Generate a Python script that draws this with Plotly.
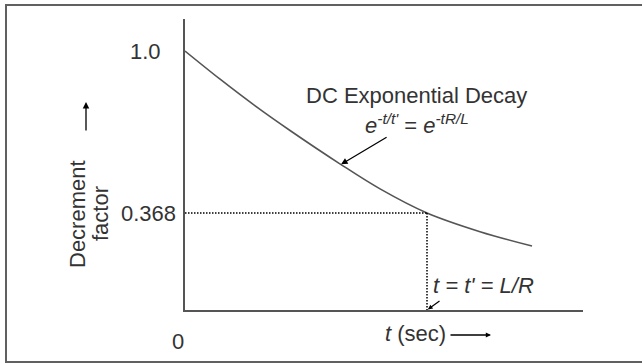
import plotly.graph_objects as go

# Decrement factor of a DC offset current
t_vals = [0.0, 0.145, 0.29, 0.434, 0.64, 0.806, 1.0, 1.219, 1.434]
decrement = [1.0, 0.890, 0.786, 0.690, 0.560, 0.462, 0.368, 0.295, 0.239]

# Time constant t' = L/R and the value reached there
t_const = 1.0
decay_at_tc = 0.368
start_value = 1.0

FONT = "Liberation Sans, Arial, sans-serif"
TXT = "#333333"
LINE = "#555555"
FS = 22

W, H = 642, 364
ML, MR, MT, MB = 185, 59, 19, 54
PW, PH = W - ML - MR, H - MT - MB


def px(x):
    """figure pixel x -> paper x"""
    return (x - ML) / PW


def py(y):
    """figure pixel y -> paper y"""
    return (H - MB - y) / PH


fig = go.Figure()

# exponential decay curve
fig.add_trace(go.Scatter(
    x=t_vals, y=decrement, mode="lines",
    line=dict(color=LINE, width=1.6, shape="spline", smoothing=1.0),
    hoverinfo="skip", showlegend=False,
))

# dotted guides to the time constant
fig.add_shape(type="line", xref="x", yref="y", x0=0, x1=t_const,
              y0=decay_at_tc, y1=decay_at_tc,
              line=dict(color="black", width=1.5, dash="1.5px,1.5px"))
fig.add_shape(type="line", xref="x", yref="y", x0=t_const, x1=t_const,
              y0=decay_at_tc, y1=-0.0105,
              line=dict(color="black", width=1.5, dash="1.5px,1.5px"))

# outer frame
fig.add_shape(type="path", xref="paper", yref="paper",
              path=f"M {px(646)} {py(5)} L {px(6)} {py(5)} L {px(6)} {py(362)} L {px(646)} {py(362)}",
              line=dict(color="#606060", width=2))

ann = []
# value labels on the vertical axis
ann.append(dict(x=0, y=start_value, xref="x", yref="y", text="1.0",
                showarrow=False, xanchor="right", yanchor="middle", xshift=-22,
                font=dict(size=FS, color=TXT, family=FONT)))
ann.append(dict(x=0, y=decay_at_tc, xref="x", yref="y", text=f"{decay_at_tc}",
                showarrow=False, xanchor="right", yanchor="middle", xshift=-7,
                font=dict(size=FS, color=TXT, family=FONT)))
ann.append(dict(x=px(178), y=py(341), xref="paper", yref="paper", text="0",
                showarrow=False, xanchor="center", yanchor="middle",
                font=dict(size=FS, color=TXT, family=FONT)))

# vertical axis title, two rotated lines
ann.append(dict(x=px(77), y=py(214), xref="paper", yref="paper", text="Decrement",
                showarrow=False, textangle=-90, xanchor="center", yanchor="middle",
                font=dict(size=FS, color=TXT, family=FONT)))
ann.append(dict(x=px(100), y=py(214), xref="paper", yref="paper", text="factor",
                showarrow=False, textangle=-90, xanchor="center", yanchor="middle",
                font=dict(size=FS, color=TXT, family=FONT)))
ann.append(dict(x=px(86), y=py(102), xref="paper", yref="paper", text="",
                showarrow=True, ax=0, ay=30, arrowhead=2, arrowsize=1,
                arrowwidth=1.3, arrowcolor="black"))

# horizontal axis title
ann.append(dict(x=px(415), y=py(333), xref="paper", yref="paper",
                text="<i>t</i> (sec)", showarrow=False,
                xanchor="center", yanchor="middle",
                font=dict(size=FS, color=TXT, family=FONT)))
ann.append(dict(x=px(491), y=py(335), xref="paper", yref="paper", text="",
                showarrow=True, ax=-42, ay=0, arrowhead=2, arrowsize=0.8,
                arrowwidth=1.3, arrowcolor="black"))

# curve caption and formula
ann.append(dict(x=px(416), y=py(96), xref="paper", yref="paper",
                text="DC Exponential Decay", showarrow=False,
                xanchor="center", yanchor="middle",
                font=dict(size=FS, color=TXT, family=FONT)))
ann.append(dict(x=px(417), y=py(124), xref="paper", yref="paper",
                text="<i>e</i><sup><i>-t/t'</i></sup> = <i>e</i><sup><i>-tR/L</i></sup>",
                showarrow=False, xanchor="center", yanchor="middle",
                font=dict(size=FS, color=TXT, family=FONT)))
ann.append(dict(x=0.645, y=0.558, xref="x", yref="y", text="",
                showarrow=True, ax=47, ay=-28, arrowhead=2, arrowsize=1,
                arrowwidth=1.3, arrowcolor="black"))

# time-constant marker
ann.append(dict(x=t_const, y=py(285), xref="x", yref="paper",
                text="<i>t = t' = L/R</i>", showarrow=False,
                xanchor="left", yanchor="middle", xshift=4,
                font=dict(size=FS, color=TXT, family=FONT)))
ann.append(dict(x=t_const, y=0, xref="x", yref="paper", text="",
                showarrow=True, ax=14, ay=-10, arrowhead=2, arrowsize=0.8,
                arrowwidth=1.2, arrowcolor="black", standoff=1))

fig.update_layout(
    width=W, height=H,
    margin=dict(l=ML, r=MR, t=MT, b=MB, pad=0),
    paper_bgcolor="white", plot_bgcolor="white",
    annotations=ann,
    hovermode=False,
    xaxis=dict(range=[0, PW / 242], showgrid=False, zeroline=False,
               showticklabels=False, ticks="", showline=True,
               linecolor=LINE, linewidth=1.8, fixedrange=True),
    yaxis=dict(range=[-0.0105, 1.125], showgrid=False, zeroline=False,
               showticklabels=False, ticks="", showline=True,
               linecolor=LINE, linewidth=1.8, fixedrange=True),
)

fig.write_html("out.html", config={"displayModeBar": False})
